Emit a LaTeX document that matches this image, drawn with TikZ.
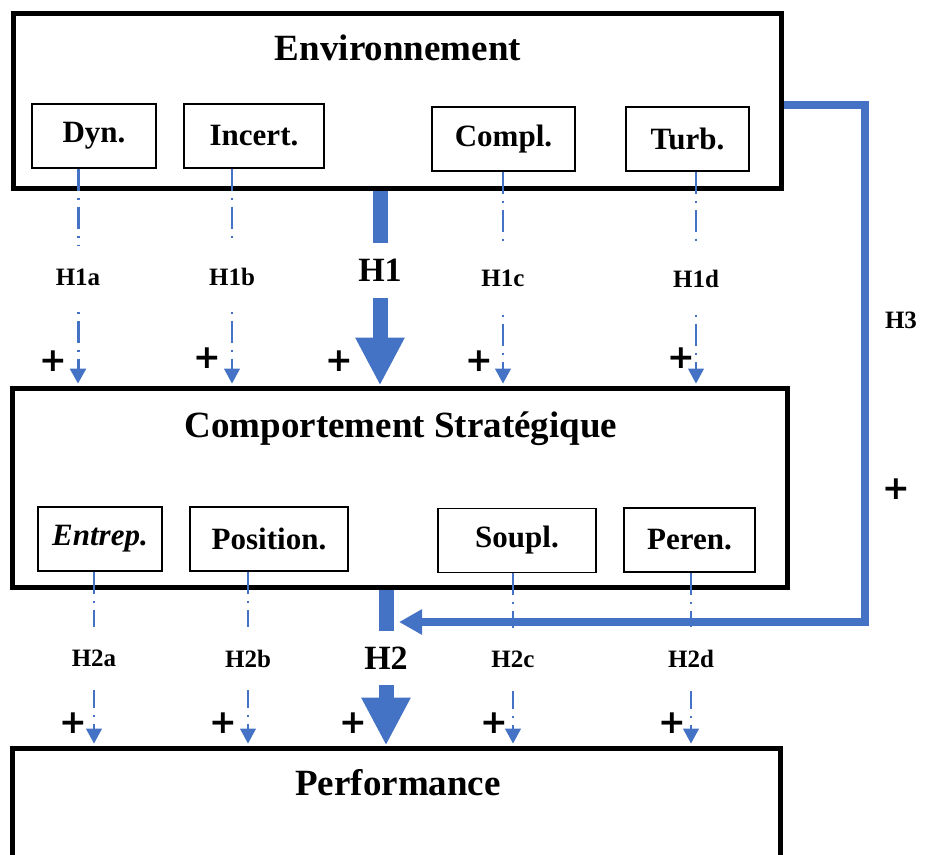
\documentclass[tikz,border=0pt]{standalone}
\usepackage{fontspec}
\setmainfont{Liberation Serif}
\newfontfamily\plusfont{DejaVu Sans}
\usetikzlibrary{arrows.meta,positioning}
\definecolor{hblue}{HTML}{4472C4}

\begin{document}
\begin{tikzpicture}[x=1pt, y=-1pt,
  bigbox/.style={draw, rectangle, line width=5pt},
  title/.style={anchor=base, font=\fontsize{37}{40}\selectfont\bfseries},
  sub/.style={draw, rectangle, line width=1.2pt, minimum height=64pt, inner sep=0pt, font=\fontsize{31}{34}\selectfont\bfseries},
  hyp/.style={draw=hblue, line width=1.3pt, dash pattern=on 22pt off 7pt on 2pt off 7pt, shorten >=2pt, -{Triangle[width=16pt,length=15pt]}},
  lbl/.style={fill=white, inner xsep=2pt, inner ysep=23pt, font=\fontsize{25}{28}\selectfont\bfseries},
  big/.style={draw=hblue, line width=15pt, -{Triangle[width=46pt,length=48pt]}},
  biglbl/.style={fill=white, inner xsep=2pt, inner ysep=16pt, font=\fontsize{34}{38}\selectfont\bfseries},
  hthree/.style={draw=hblue, line width=8pt, -{Triangle[width=24pt,length=23pt]}},
  plus/.style={font=\plusfont\bfseries\fontsize{33}{35}\selectfont}]
  \path[use as bounding box, clip] (0,0) rectangle (928,854);

  % the three blocks
  \node[bigbox, minimum width=768pt, minimum height=175pt] (env) at (397,100.5) {};
  \node[bigbox, minimum width=775pt, minimum height=199pt] (cs) at (399.5,487.5) {};
  \node[bigbox, minimum width=768pt, minimum height=152pt] (perf) at (396,824) {};
  \node[title] (envt) at (398,60) {Environnement};
  \node[title] (cst) at (401,437) {Comportement Stratégique};
  \node[title] (perft) at (398,795) {Performance};

  % dimensions
  \node[sub, minimum width=124pt] (dyn) at (94,136) {Dyn.};
  \node[sub, minimum width=140pt] (incert) at (254,136) {Incert.};
  \node[sub, minimum width=143pt] (compl) at (503.5,139) {Compl.};
  \node[sub, minimum width=123pt] (turb) at (687.5,139) {Turb.};
  \node[sub, minimum width=124pt, font=\fontsize{31}{34}\selectfont\bfseries\itshape] (entrep) at (100,539) {Entrep.};
  \node[sub, minimum width=158pt] (position) at (269,539) {Position.};
  \node[sub, minimum width=158pt] (soupl) at (517,540.5) {Soupl.};
  \node[sub, minimum width=131pt] (peren) at (689.5,540) {Peren.};

  % H1
  \coordinate (dynx) at ([xshift=-16pt]dyn.south);
  \coordinate (incertx) at ([xshift=-22pt]incert.south);
  \coordinate (complx) at ([xshift=-0.5pt]compl.south);
  \coordinate (turbx) at ([xshift=8.5pt]turb.south);
  \coordinate (hone) at (380,0);
  \draw[hyp, line width=3pt] (dynx) -- node[lbl] {H1a} (dynx |- cs.north);
  \draw[hyp] (incertx) -- node[lbl] {H1b} (incertx |- cs.north);
  \draw[hyp] (complx) -- node[lbl] {H1c} (complx |- cs.north);
  \draw[hyp] (turbx) -- node[lbl] {H1d} (turbx |- cs.north);
  \draw[big] (env.south -| hone) -- node[biglbl, pos=0.41] {H1} (cs.north -| hone);

  % H2
  \coordinate (entrepx) at ([xshift=-6pt]entrep.south);
  \coordinate (positionx) at ([xshift=-21pt]position.south);
  \coordinate (souplx) at ([xshift=-4pt]soupl.south);
  \coordinate (perenx) at ([xshift=1.5pt]peren.south);
  \coordinate (htwo) at (386,0);
  \draw[hyp] (entrepx) -- node[lbl] {H2a} (entrepx |- perf.north);
  \draw[hyp] (positionx) -- node[lbl] {H2b} (positionx |- perf.north);
  \draw[hyp] (souplx) -- node[lbl] {H2c} (souplx |- perf.north);
  \draw[hyp] (perenx) -- node[lbl] {H2d} (perenx |- perf.north);
  \draw[big] (cs.south -| htwo) -- node[biglbl, pos=0.44] {H2} (perf.north -| htwo);

  % H3
  \coordinate (hthreeend) at (399,622);
  \draw[hthree] ([yshift=-4.5pt]env.east) -- ++(81,0) |- (hthreeend);
  \node[font=\fontsize{25}{28}\selectfont\bfseries] (hthreelbl) at (901,320) {H3};

  % signs
  \node[plus] (p1a) at (53,361) {+};
  \node[plus] (p1b) at (207,358) {+};
  \node[plus] (p1) at (339,361) {+};
  \node[plus] (p1c) at (479,361) {+};
  \node[plus] (p1d) at (681,358) {+};
  \node[plus] (p2a) at (73,723) {+};
  \node[plus] (p2b) at (223,723) {+};
  \node[plus] (p2) at (353,723) {+};
  \node[plus] (p2c) at (494,723) {+};
  \node[plus] (p2d) at (672,723) {+};
  \node[plus] (p3) at (896,489) {+};
\end{tikzpicture}
\end{document}
